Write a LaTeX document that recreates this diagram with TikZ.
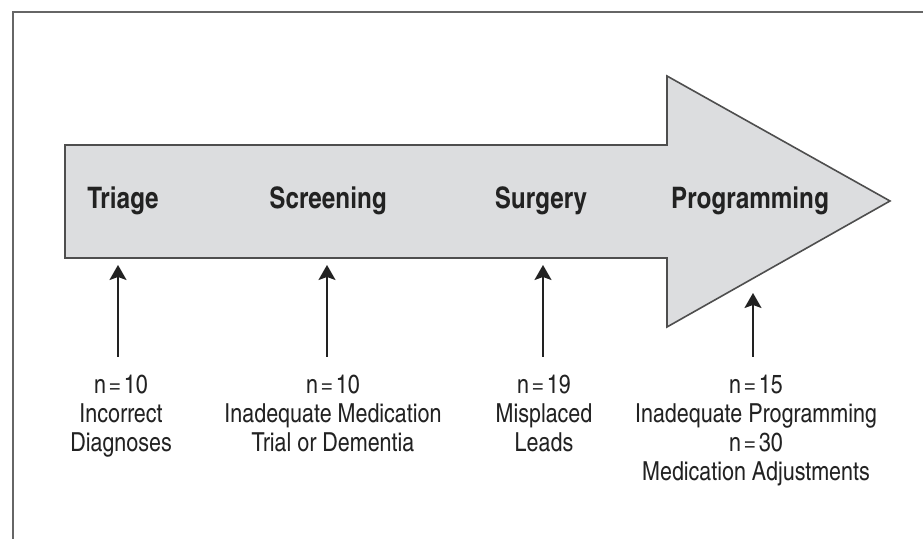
\documentclass[tikz,border=0pt]{standalone}
\usepackage{fontspec}
\setmainfont{texgyreheroscn}[Extension=.otf,UprightFont=*-regular,BoldFont=*-bold]
\usetikzlibrary{arrows.meta}
\definecolor{shaft}{HTML}{DCDDDF}
\definecolor{ink}{HTML}{222222}
\definecolor{rim}{HTML}{666666}
\newcommand{\ncount}[1]{n\kern1.3pt=\kern1.3pt#1}

\begin{document}
\begin{tikzpicture}[x=0.5pt,y=0.5pt,
  stage/.style={font=\fontsize{14.8}{16}\selectfont\bfseries,text=ink},
  note/.style={font=\fontsize{13.1}{14.5}\selectfont,text=ink,align=center,
    anchor=north,inner xsep=0pt,inner ysep=9pt},
  up/.style={-{Stealth[length=7.5pt,width=8.5pt,inset=1.5pt]},line width=0.9pt,ink}]
\useasboundingbox (0,0) rectangle (923,539);
% frame
\draw[rim,line width=1pt] (13,0) -- (13,527) -- (923,527);
% big arrow
\draw[fill=shaft,draw=ink!80,line width=0.8pt]
  (65,394) -- (667,394) -- (667,463) -- (890,338) -- (667,212) -- (667,281)
  -- (65,281) -- cycle;
% stages
\node[stage] (triage) at (123,338) {Triage};
\node[stage] (screen) at (328,338) {Screening};
\node[stage] (surg) at (541,338) {Surgery};
\node[stage] (prog) at (750,338) {Programming};
% tips under the arrow
\coordinate (t1) at (118,274);
\coordinate (t2) at (327,274);
\coordinate (t3) at (543,274);
\coordinate (t4) at (753,246);
% notes
\node[note] (n1) at (121,182) {\ncount{10}\\Incorrect\\Diagnoses};
\node[note] (n2) at (333,182) {\ncount{10}\\Inadequate Medication\\Trial or Dementia};
\node[note] (n3) at (544,182) {\ncount{19}\\Misplaced\\Leads};
\node[note] (n4) at (756,182) {\ncount{15}\\Inadequate Programming\\\ncount{30}\\Medication Adjustments};
\draw[up] (t1 |- n1.north) -- (t1);
\draw[up] (t2 |- n2.north) -- (t2);
\draw[up] (t3 |- n3.north) -- (t3);
\draw[up] (t4 |- n4.north) -- (t4);
\end{tikzpicture}
\end{document}
